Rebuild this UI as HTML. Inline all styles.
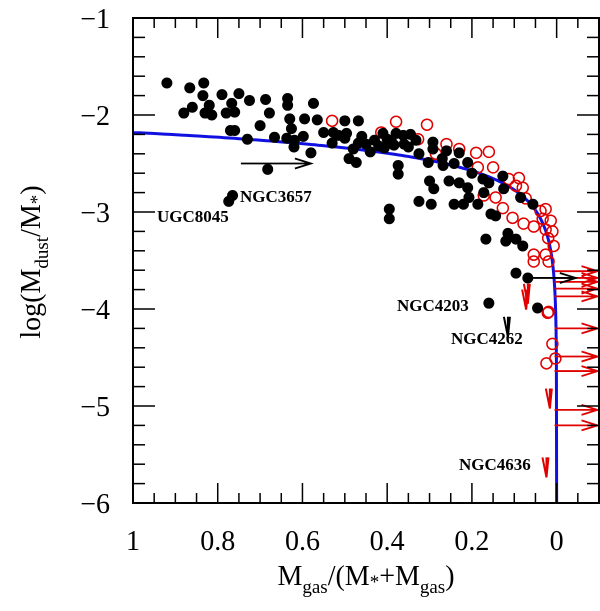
<!DOCTYPE html>
<html><head><meta charset="utf-8">
<style>
html,body{margin:0;padding:0;background:#fff;}
svg{display:block;}
text{font-family:"Liberation Serif",serif;fill:#000;}
</style></head>
<body>
<svg id="chart" width="600" height="611" viewBox="0 0 600 611" xmlns="http://www.w3.org/2000/svg">
<g id="marks"></g>
<g id="axes"></g>
<rect x="133" y="18" width="466" height="485" fill="none" stroke="#000" stroke-width="2"/>
<text x="366" y="585" font-size="28" text-anchor="middle">M<tspan font-size="19" dy="8">gas</tspan><tspan dy="-8">/(M</tspan><tspan font-size="19" dy="3">*</tspan><tspan dy="-3">+M</tspan><tspan font-size="19" dy="8">gas</tspan><tspan dy="-8">)</tspan></text>
<text transform="translate(40,262) rotate(-90)" font-size="28" text-anchor="middle">log(M<tspan font-size="19" dy="8">dust</tspan><tspan dy="-8">/M</tspan><tspan font-size="19" dy="3">*</tspan><tspan dy="-3">)</tspan></text>
<text x="157" y="222" font-size="17" font-weight="bold">UGC8045</text>
<text x="240" y="202" font-size="17" font-weight="bold">NGC3657</text>
<text x="397" y="311" font-size="17" font-weight="bold">NGC4203</text>
<text x="451" y="344" font-size="17" font-weight="bold">NGC4262</text>
<text x="459" y="470" font-size="17" font-weight="bold">NGC4636</text>
</svg>
<script>
const xTicks=[1,0.8,0.6,0.4,0.2,0];
const xTickLabels=["1","0.8","0.6","0.4","0.2","0"];
const yTicks=[-1,-2,-3,-4,-5,-6];
const yTickLabels=["\u22121","\u22122","\u22123","\u22124","\u22125","\u22126"];
const blackX=[0.92,0.866,0.833,0.835,0.88,0.86,0.83,0.814,0.82,0.79,0.78,0.767,0.75,0.76,0.725,0.77,0.76,0.73,0.70,0.687,0.678,0.666,0.635,0.635,0.63,0.626,0.637,0.619,0.62,0.595,0.598,0.58,0.574,0.565,0.55,0.527,0.50,0.496,0.515,0.50,0.468,0.468,0.49,0.473,0.53,0.682,0.774,0.765,0.43,0.41,0.379,0.362,0.407,0.384,0.374,0.374,0.395,0.395,0.332,0.325,0.292,0.292,0.26,0.23,0.303,0.268,0.242,0.21,0.30,0.29,0.254,0.23,0.21,0.325,0.296,0.242,0.22,0.207,0.186,0.174,0.16,0.172,0.127,0.125,0.155,0.144,0.085,0.056,0.167,0.12,0.115,0.096,0.08,0.096,0.068,0.045,0.16,0.45,0.44,0.35,0.27,0.2,0.42,0.39,0.36,0.46,0.48,0.345,0.40];
const blackY=[-1.67,-1.72,-1.67,-1.80,-1.98,-1.92,-1.98,-2.0,-1.90,-1.79,-1.98,-1.88,-1.78,-1.97,-1.85,-2.16,-2.16,-2.25,-2.11,-1.84,-1.98,-2.23,-1.83,-1.90,-2.04,-2.14,-2.24,-2.26,-2.33,-2.04,-2.22,-2.39,-1.88,-2.05,-2.18,-2.18,-2.06,-2.19,-2.21,-2.24,-2.06,-2.29,-2.45,-2.49,-2.29,-2.56,-2.89,-2.83,-2.26,-2.19,-2.19,-2.21,-2.34,-2.31,-2.52,-2.61,-2.97,-3.07,-2.26,-2.40,-2.28,-2.35,-2.37,-2.39,-2.49,-2.52,-2.50,-2.49,-2.68,-2.76,-2.68,-2.70,-2.75,-2.89,-2.92,-2.92,-2.92,-2.85,-2.92,-2.66,-2.70,-2.80,-2.63,-2.76,-3.02,-3.04,-2.85,-2.92,-3.28,-3.30,-3.22,-3.28,-3.35,-3.63,-3.68,-3.99,-3.94,-2.30,-2.38,-2.33,-2.45,-2.60,-2.32,-2.27,-2.30,-2.22,-2.35,-2.20,-2.25];
const redX=[0.53,0.379,0.306,0.414,0.327,0.285,0.19,0.16,0.186,0.15,0.113,0.089,0.096,0.08,0.172,0.144,0.073,0.127,0.104,0.078,0.054,0.038,0.026,0.033,0.014,0.026,0.01,0.02,0.007,0.054,0.054,0.026,0.019,0.019,0.021,0.01,0.003,0.024,0.26,0.23];
const redY=[-2.06,-2.07,-2.10,-2.18,-2.25,-2.40,-2.39,-2.38,-2.54,-2.54,-2.66,-2.65,-2.73,-2.75,-2.83,-2.85,-2.86,-2.96,-3.06,-3.12,-3.15,-2.99,-2.97,-3.07,-3.09,-3.18,-3.20,-3.27,-3.35,-3.44,-3.51,-3.44,-3.51,-4.03,-4.04,-4.36,-4.51,-4.56,-2.30,-2.35];
const redArrowY=[-3.61,-3.68,-3.72,-3.79,-3.87,-4.20,-4.49,-4.64,-5.04,-5.20];
const redArrowX=[0.005,0.005,0.005,0.005,0.005,0.005,0.005,0.005,0.005,0.005];
const redLimX=[0.068,0.072,0.016,0.024];
const redLimY=[-3.74,-3.80,-4.82,-5.53];
const blackLimX=[0.115];
const blackLimY=[-4.08];
const blackArrowX=[0.75,0.068];
const blackArrowY=[-2.50,-3.68];

const X0=133,XW=466,Y0=18,YH=485;
const xs=v=>X0+(1-v)/1.1*XW;
const ys=v=>Y0+(-1-v)/5*YH;
const NS="http://www.w3.org/2000/svg";
function mk(tag,parent){const e=document.createElementNS(NS,tag);parent.appendChild(e);return e;}
const marks=document.getElementById('marks');
const axes=document.getElementById('axes');

for(let i=-0.1;i<=1.0001;i+=0.05){
  const v=Math.round(i*100)/100;
  const major=Math.abs(v*5-Math.round(v*5))<1e-6;
  const L=major?20:10;
  const t1=mk('line',axes);
  
  
  t1.setAttribute('x1',xs(v));t1.setAttribute('x2',xs(v));t1.setAttribute('y1',503);t1.setAttribute('y2',503-L);t1.setAttribute('stroke','#000');t1.setAttribute('stroke-width',1.5);
  const t2=mk('line',axes);
  
  
  t2.setAttribute('x1',xs(v));t2.setAttribute('x2',xs(v));t2.setAttribute('y1',18);t2.setAttribute('y2',18+L);t2.setAttribute('stroke','#000');t2.setAttribute('stroke-width',1.5);
}
for(let k=0;k<=25;k++){
  const v=-1-k*0.2;
  const major=k%5===0;
  const L=major?22:12;
  const t1=mk('line',axes);
  
  
  t1.setAttribute('x1',133);t1.setAttribute('x2',133+L);t1.setAttribute('y1',ys(v));t1.setAttribute('y2',ys(v));t1.setAttribute('stroke','#000');t1.setAttribute('stroke-width',1.5);
  const t2=mk('line',axes);
  
  
  t2.setAttribute('x1',599);t2.setAttribute('x2',599-L);t2.setAttribute('y1',ys(v));t2.setAttribute('y2',ys(v));t2.setAttribute('stroke','#000');t2.setAttribute('stroke-width',1.5);
}
xTicks.forEach((v,i)=>{
  const t=mk('text',axes);
  
  
  t.setAttribute('x',xs(v));t.setAttribute('y',550);t.setAttribute('font-size',28);t.setAttribute('text-anchor','middle');
  t.textContent=xTickLabels[i];
});
yTicks.forEach((v,i)=>{
  const t=mk('text',axes);
  
  
  t.setAttribute('x',110);t.setAttribute('y',ys(v)+10);t.setAttribute('font-size',28);t.setAttribute('text-anchor','end');
  t.textContent=yTickLabels[i];
});

function model(f){return -2.18+Math.log10(f*Math.log(1/f)/(1-f));}
let d='';
const fs=[];
for(let f=0.999;f>0.0005;f*=0.985) fs.push(f);
fs.forEach((f,i)=>{const p=xs(f).toFixed(1)+','+ys(model(f)).toFixed(1);d+=(i?'L':'M')+p;});
const curve=mk('path',marks);


curve.setAttribute('d','M'+xs(1)+','+ys(-2.18)+d.replace(/^M/,'L')+'L'+xs(0)+','+ys(-6));
curve.setAttribute('fill','none');curve.setAttribute('stroke','#1010e0');curve.setAttribute('stroke-width',3);

function arrowRight(x1,y,x2,col,name){
  const g=mk('g',marks);
  
  
  const l=mk('path',g);
  l.setAttribute('d',`M${x1},${y}L${x2},${y}M${x2-16},${y-5}L${x2},${y}L${x2-16},${y+5}`);
  l.setAttribute('stroke',col);l.setAttribute('stroke-width',1.8);l.setAttribute('fill','none');
}
function arrowDown(x,y1,col,name){
  const g=mk('g',marks);
  
  
  const l=mk('path',g);
  l.setAttribute('d',`M${x-4},${y1}L${x},${y1+20}L${x+2},${y1}M${x},${y1}L${x},${y1+20}`);
  l.setAttribute('stroke',col);l.setAttribute('stroke-width',2);l.setAttribute('fill','none');
}
redArrowY.forEach((v,i)=>arrowRight(xs(redArrowX[i]),ys(v),xs(redArrowX[i])+43,'#e00000','red-lower-limit-arrow'));
redLimX.forEach((v,i)=>arrowDown(xs(v),ys(redLimY[i]),'#e00000','red-upper-limit-arrow'));
blackLimX.forEach((v,i)=>arrowDown(xs(v),ys(blackLimY[i]),'#000','black-upper-limit-arrow'));
arrowRight(xs(blackArrowX[0])+2,ys(blackArrowY[0]),xs(blackArrowX[0])+72,'#000','black-lower-limit-arrow');
arrowRight(xs(blackArrowX[1]),ys(blackArrowY[1]),xs(blackArrowX[1])+48,'#000','black-lower-limit-arrow');

redX.forEach((v,i)=>{
  const c=mk('circle',marks);
  
  
  c.setAttribute('cx',xs(v));c.setAttribute('cy',ys(redY[i]));c.setAttribute('r',5.5);
  c.setAttribute('fill','none');c.setAttribute('stroke','#e00000');c.setAttribute('stroke-width',1.5);
});
blackX.forEach((v,i)=>{
  const c=mk('circle',marks);
  
  
  c.setAttribute('cx',xs(v));c.setAttribute('cy',ys(blackY[i]));c.setAttribute('r',5.5);
  c.setAttribute('fill','#000');
});
</script>
</body></html>
